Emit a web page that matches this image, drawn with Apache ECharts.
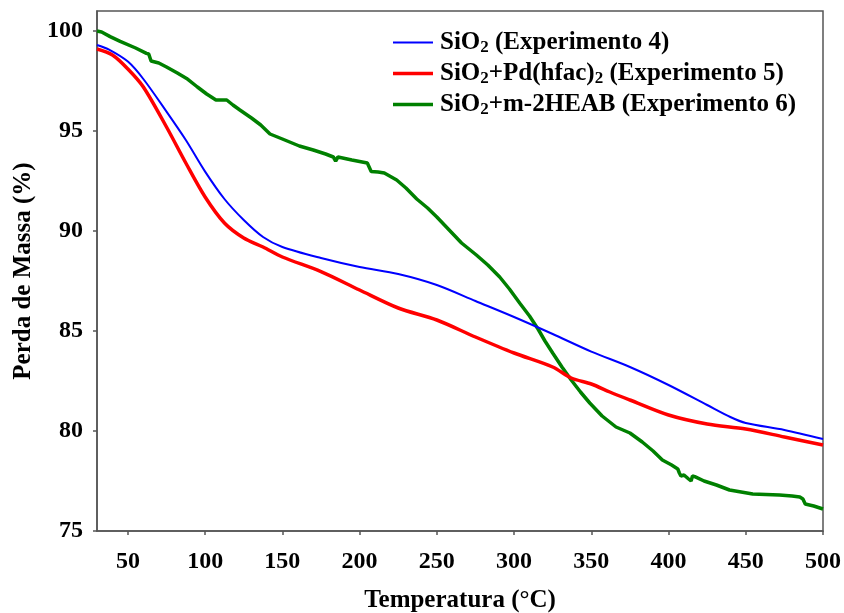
<!DOCTYPE html>
<html>
<head>
<meta charset="utf-8">
<script src="https://cdn.jsdelivr.net/npm/echarts@6/dist/echarts.min.js"></script>
<style>
  html, body { margin: 0; padding: 0; background: #fff; }
  #chart { width: 844px; height: 613px; }
</style>
</head>
<body>
<div id="chart"></div>
<script>
// Thermogravimetric curves: mass (%) versus temperature (°C)
const seriesNames = ['SiO2 (Experimento 4)', 'SiO2+Pd(hfac)2 (Experimento 5)', 'SiO2+m-2HEAB (Experimento 6)'];
// Same labels split into [normal, subscript, normal, ...] pieces
const legendPieces = [
  ['SiO', '2', ' (Experimento 4)'],
  ['SiO', '2', '+Pd(hfac)', '2', ' (Experimento 5)'],
  ['SiO', '2', '+m-2HEAB (Experimento 6)']
];

const xTicks = [50, 100, 150, 200, 250, 300, 350, 400, 450, 500];
const yTicks = [75, 80, 85, 90, 95, 100];

// Experimento 4
const blueTemp = [30, 37.5, 50, 60, 75, 87.5, 100, 112.5, 125, 137.5, 150, 175, 200, 225, 250, 275, 300, 325, 350, 375, 400, 425, 440, 450, 475, 500];
const blueMass = [99.3, 99.08, 98.47, 97.6, 95.97, 94.55, 92.97, 91.6, 90.55, 89.7, 89.2, 88.65, 88.2, 87.85, 87.3, 86.5, 85.7, 84.85, 83.97, 83.2, 82.3, 81.3, 80.7, 80.4, 80.05, 79.6];

// Experimento 5
const redTemp = [30, 40, 50, 60, 75, 87.5, 100, 112.5, 125, 137.5, 150, 175, 200, 225, 250, 275, 300, 325, 337, 350, 362, 375, 400, 425, 450, 475, 500];
const redMass = [99.1, 98.8, 98.1, 97.2, 95.2, 93.4, 91.7, 90.4, 89.65, 89.2, 88.7, 87.97, 87.05, 86.15, 85.55, 84.7, 83.9, 83.2, 82.65, 82.35, 81.95, 81.55, 80.8, 80.35, 80.1, 79.7, 79.3];

// Experimento 6
const greenTemp = [30, 33, 38.5, 45, 55, 62, 63.5, 65, 70, 75, 82, 88, 95, 101, 107, 114, 118, 122.5, 130, 136, 140, 142, 150, 161, 170, 178, 183, 184.5, 186, 195, 205, 206, 207.5, 212, 216, 224, 230, 237, 244, 250, 258, 266, 275.6, 283, 290.7, 297, 303.6, 310, 315.5, 320, 325, 331, 337, 343, 349, 357, 366, 375, 383, 390, 396, 402, 406, 407, 408, 410, 413, 414.6, 415.5, 417, 423, 431, 439.5, 447, 454.5, 463, 471.8, 480, 485, 487, 488.5, 494, 500];
const greenMass = [100.0, 99.95, 99.72, 99.48, 99.15, 98.88, 98.85, 98.5, 98.4, 98.2, 97.9, 97.63, 97.2, 96.85, 96.55, 96.55, 96.3, 96.05, 95.65, 95.3, 95.0, 94.85, 94.6, 94.25, 94.05, 93.85, 93.7, 93.5, 93.7, 93.55, 93.4, 93.3, 92.98, 92.95, 92.9, 92.55, 92.15, 91.6, 91.15, 90.7, 90.05, 89.4, 88.8, 88.3, 87.7, 87.1, 86.4, 85.75, 85.1, 84.5, 83.9, 83.2, 82.55, 81.95, 81.4, 80.75, 80.2, 79.9, 79.45, 79.0, 78.55, 78.3, 78.1, 77.9, 77.75, 77.8, 77.6, 77.5, 77.75, 77.72, 77.5, 77.3, 77.05, 76.95, 76.85, 76.83, 76.8, 76.75, 76.7, 76.6, 76.35, 76.25, 76.1];

const zip = (xs, ys) => xs.map((x, i) => [x, ys[i]]);

const FONT = "'Liberation Serif', 'Times New Roman', serif";
const AXIS_COLOR = '#555555';
const COLORS = ['#0000ff', '#ff0000', '#008000'];
const WIDTHS = [2, 3.5, 3.5];

// Legend labels with subscript "2"
const legendRich = {
  t: { fontFamily: FONT, fontWeight: 'bold', fontSize: 25, color: '#000' },
  s: { fontFamily: FONT, fontWeight: 'bold', fontSize: 17, color: '#000', padding: [10, 0, 0, 0] }
};
function legendLabel(name) {
  const pieces = legendPieces[seriesNames.indexOf(name)];
  return pieces.map((p, i) => (i % 2 === 1 ? '{s|' + p + '}' : '{t|' + p + '}')).join('');
}
// Plain horizontal stroke as legend key, as thick as the series line
const lineIcon = w => 'path://M0,0 H40 V' + w + ' H0 Z';

const chart = echarts.init(document.getElementById('chart'), null, { renderer: 'canvas' });

chart.setOption({
  animation: false,
  backgroundColor: '#ffffff',
  grid: {
    left: 97, right: 21, top: 11, bottom: 82,
    outerBoundsMode: 'none',
    containLabel: false,
    show: true, borderColor: AXIS_COLOR, borderWidth: 1.5, backgroundColor: 'transparent'
  },
  legend: {
    orient: 'vertical',
    left: 388, top: 25,
    itemWidth: 40, itemHeight: 14, itemGap: 5,
    symbolKeepAspect: true,
    data: seriesNames.map((n, i) => ({ name: n, icon: lineIcon(WIDTHS[i]) })),
    formatter: legendLabel,
    textStyle: { rich: legendRich, padding: [0, 0, 0, 2] }
  },
  xAxis: {
    type: 'value',
    min: 30, max: 500,
    name: 'Temperatura (°C)',
    nameLocation: 'middle',
    nameGap: 57,
    nameTextStyle: { fontFamily: FONT, fontWeight: 'bold', fontSize: 25, color: '#000' },
    axisLine: { show: true, lineStyle: { color: AXIS_COLOR, width: 1.5 } },
    axisTick: { show: true, length: 4, customValues: xTicks, lineStyle: { color: AXIS_COLOR, width: 1.5 } },
    axisLabel: { customValues: xTicks, margin: 19, fontFamily: FONT, fontWeight: 'bold', fontSize: 24, color: '#000' },
    splitLine: { show: false }
  },
  yAxis: {
    type: 'value',
    min: 75, max: 101,
    name: 'Perda de Massa (%)',
    nameLocation: 'middle',
    nameGap: 61,
    nameTextStyle: { fontFamily: FONT, fontWeight: 'bold', fontSize: 25, color: '#000' },
    axisLine: { show: true, lineStyle: { color: AXIS_COLOR, width: 1.5 } },
    axisTick: { show: true, length: 4, customValues: yTicks, lineStyle: { color: AXIS_COLOR, width: 1.5 } },
    axisLabel: { customValues: yTicks, margin: 14, fontFamily: FONT, fontWeight: 'bold', fontSize: 24, color: '#000' },
    splitLine: { show: false }
  },
  series: [
    { name: seriesNames[0], data: zip(blueTemp, blueMass), smooth: 0.3, z: 4 },
    { name: seriesNames[1], data: zip(redTemp, redMass), smooth: 0.3, z: 3 },
    { name: seriesNames[2], data: zip(greenTemp, greenMass), smooth: false, z: 2 }
  ].map((s, i) => Object.assign({
    type: 'line',
    showSymbol: false,
    symbol: 'none',
    lineStyle: { color: COLORS[i], width: WIDTHS[i] },
    itemStyle: { color: COLORS[i] }
  }, s))
});
</script>
</body>
</html>
